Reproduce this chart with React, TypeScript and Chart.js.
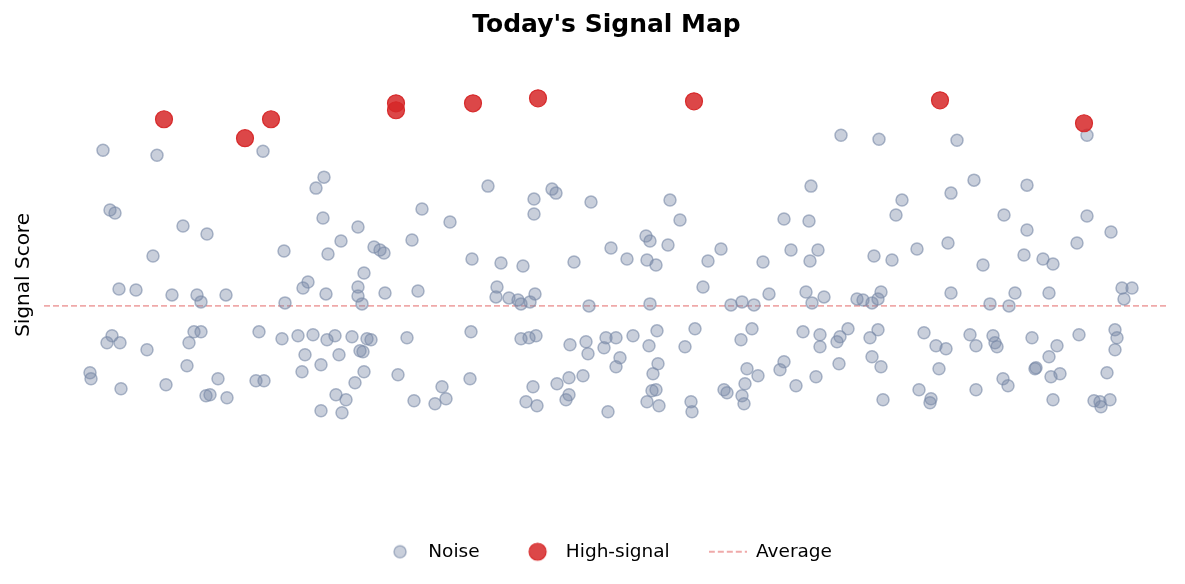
import React, { useEffect, useRef } from "react";
import { Chart, registerables } from "chart.js";

Chart.register(...registerables);

// ---- data ----
const X_MIN = 0;
const X_MAX = 1125;
const Y_MIN = 0;
const Y_MAX = 458;

const AVERAGE_SCORE = 198;

const highSignalPoints: [number, number][] = [
  [120, 385], [201, 366], [227, 385], [352, 401], [352, 394],
  [429, 401], [494, 406], [650, 403], [896, 404], [1040, 381],
];

const noisePointsA: [number, number][] = [
  [59, 354], [113, 349], [219, 353], [280, 327], [272, 316], [66, 294], [71, 291],
  [139, 278], [163, 270], [279, 286], [240, 253], [109, 248], [75, 215], [92, 214],
  [128, 209], [153, 209], [157, 202], [182, 209], [259, 216], [264, 222], [241, 201],
  [282, 210], [68, 168], [63, 161], [76, 161], [103, 154], [150, 172], [157, 172],
  [145, 161], [215, 172], [238, 165], [254, 168], [269, 169], [283, 164], [261, 149],
  [277, 139], [258, 132], [46, 131], [47, 125], [143, 138], [174, 125], [77, 115],
  [122, 119], [162, 108], [166, 109], [183, 106], [212, 123], [220, 123], [277, 93],
  [284, 250],
];

const noisePointsB: [number, number][] = [
  [297, 263], [314, 277], [330, 257], [336, 254], [340, 251], [368, 264], [378, 295],
  [406, 282], [444, 318], [490, 305], [490, 290], [508, 315], [512, 311], [547, 302],
  [567, 256], [428, 245], [457, 241], [479, 238], [530, 242], [320, 231], [314, 217],
  [314, 208], [318, 200], [341, 211], [374, 213], [453, 217], [452, 207], [465, 206],
  [474, 204], [477, 200], [486, 202], [491, 210], [545, 198], [291, 168], [308, 167],
  [323, 165], [327, 164], [363, 166], [427, 172], [477, 165], [485, 166], [492, 168],
  [526, 159], [542, 162], [544, 150], [560, 156], [562, 166], [572, 166], [576, 146],
  [572, 137], [316, 153], [319, 152], [295, 149], [320, 132], [311, 121], [354, 129],
  [292, 109], [302, 104], [298, 91], [370, 103], [391, 100], [398, 117], [402, 105],
  [426, 125], [489, 117], [482, 102], [493, 98], [513, 120], [525, 126], [539, 128],
  [522, 104], [525, 109], [564, 92],
];

const noisePointsC: [number, number][] = [
  [626, 304], [636, 284], [602, 268], [606, 263], [624, 259], [677, 255], [740, 285],
  [765, 283], [767, 318], [797, 369], [835, 365], [858, 304], [852, 289], [747, 254],
  [774, 254], [830, 248], [583, 245], [603, 244], [612, 239], [664, 243], [719, 242],
  [766, 243], [848, 244], [659, 217], [725, 210], [762, 212], [780, 207], [768, 201],
  [606, 200], [687, 199], [698, 202], [710, 199], [813, 205], [819, 204], [828, 201],
  [834, 205], [837, 212], [589, 168], [613, 173], [605, 158], [651, 175], [641, 157],
  [697, 164], [708, 175], [759, 172], [776, 169], [776, 157], [793, 162], [796, 167],
  [804, 175], [826, 166], [834, 174], [795, 140], [828, 147], [837, 137], [614, 140],
  [609, 130], [703, 135], [714, 128], [701, 120], [740, 142], [736, 134], [772, 127],
  [752, 118], [680, 114], [683, 111], [698, 108], [700, 100], [647, 102], [648, 92],
  [603, 102], [615, 98], [608, 113], [612, 114], [839, 104],
];

const noisePointsD: [number, number][] = [
  [913, 364], [1043, 369], [930, 324], [907, 311], [983, 319], [960, 289], [983, 274],
  [1043, 288], [1067, 272], [1033, 261], [904, 261], [873, 255], [980, 249], [999, 245],
  [1009, 240], [939, 239], [907, 211], [971, 211], [1005, 211], [1078, 216], [1088, 216],
  [1080, 205], [946, 200], [965, 198], [880, 171], [892, 158], [902, 155], [926, 169],
  [932, 158], [949, 168], [951, 161], [953, 157], [988, 166], [991, 135], [992, 136],
  [1005, 147], [1013, 158], [1035, 169], [1071, 174], [1073, 166], [1071, 154], [895, 135],
  [875, 114], [887, 105], [886, 101], [932, 114], [959, 125], [964, 118], [1007, 127],
  [1016, 130], [1063, 131], [1009, 104], [1050, 103], [1056, 102], [1057, 97], [1066, 104],
];

const noisePoints = [...noisePointsA, ...noisePointsB, ...noisePointsC, ...noisePointsD];

const LABELS = ["Noise", "High-signal", "Average"];

// ---- styles ----
const FONT = "'DejaVu Sans', Verdana, sans-serif";
const NOISE_FILL = "rgba(120,136,166,0.4)";
const NOISE_BORDER = "rgba(120,136,166,0.6)";
const SIGNAL_FILL = "rgba(214,39,40,0.85)";
const SIGNAL_BORDER = "rgba(214,39,40,0.95)";
const AVG_COLOR = "rgba(214,39,40,0.4)";

function circleIcon(r: number, fill: string, stroke: string, lw: number) {
  const size = Math.ceil(2 * r + lw + 2);
  const c = document.createElement("canvas");
  c.width = size;
  c.height = size;
  const ctx = c.getContext("2d")!;
  ctx.beginPath();
  ctx.arc(size / 2, size / 2, r, 0, Math.PI * 2);
  ctx.fillStyle = fill;
  ctx.fill();
  ctx.lineWidth = lw;
  ctx.strokeStyle = stroke;
  ctx.stroke();
  return c;
}

function dashIcon(w: number) {
  const c = document.createElement("canvas");
  c.width = w;
  c.height = 6;
  const ctx = c.getContext("2d")!;
  ctx.setLineDash([6, 3]);
  ctx.strokeStyle = AVG_COLOR;
  ctx.lineWidth = 1.8;
  ctx.beginPath();
  ctx.moveTo(0, 3);
  ctx.lineTo(w, 3);
  ctx.stroke();
  return c;
}

export default function App() {
  const ref = useRef<HTMLCanvasElement | null>(null);

  useEffect(() => {
    if (!ref.current) return;
    const icons = [
      circleIcon(6, NOISE_FILL, NOISE_BORDER, 1.5),
      circleIcon(8.5, SIGNAL_FILL, SIGNAL_BORDER, 1.2),
      dashIcon(38),
    ];
    const chart = new Chart(ref.current, {
      type: "scatter",
      data: {
        datasets: [
          {
            type: "line",
            label: LABELS[2],
            data: [
              { x: X_MIN, y: AVERAGE_SCORE },
              { x: X_MAX, y: AVERAGE_SCORE },
            ],
            borderColor: AVG_COLOR,
            borderWidth: 1.8,
            borderDash: [6, 3],
            pointRadius: 0,
            fill: false,
            order: 3,
          } as any,
          {
            label: LABELS[0],
            data: noisePoints.map(([x, y]) => ({ x, y })),
            backgroundColor: NOISE_FILL,
            borderColor: NOISE_BORDER,
            borderWidth: 1.5,
            pointRadius: 6,
            order: 2,
          },
          {
            label: LABELS[1],
            data: highSignalPoints.map(([x, y]) => ({ x, y })),
            backgroundColor: SIGNAL_FILL,
            borderColor: SIGNAL_BORDER,
            borderWidth: 1.2,
            pointRadius: 8.5,
            order: 1,
          },
        ],
      },
      options: {
        responsive: false,
        animation: false,
        events: [],
        layout: { padding: { top: 0, left: 12, right: 16, bottom: 13 } },
        scales: {
          x: { type: "linear", display: false, min: X_MIN, max: X_MAX },
          y: {
            type: "linear",
            min: Y_MIN,
            max: Y_MAX,
            ticks: { display: false },
            grid: { display: false, drawTicks: false },
            border: { display: false },
            title: {
              display: true,
              text: "Signal Score",
              color: "#000",
              font: { family: FONT, size: 20 },
              padding: { top: 0, bottom: 8 },
            },
          },
        },
        plugins: {
          tooltip: { enabled: false },
          title: {
            display: true,
            text: "Today's Signal Map",
            color: "#000",
            fullSize: false,
            font: { family: FONT, size: 25, weight: "bold" },
            padding: { top: 10.5, bottom: 5.9 },
          },
          legend: {
            display: true,
            position: "bottom",
            fullSize: false,
            labels: {
              usePointStyle: true,
              pointStyleWidth: 38,
              boxHeight: 18,
              padding: 39,
              color: "#000",
              font: { family: FONT, size: 18.5 },
              generateLabels: () =>
                LABELS.map((text, i) => ({
                  text,
                  pointStyle: icons[i] as any,
                  fillStyle: "transparent",
                  strokeStyle: "transparent",
                  lineWidth: 0,
                  hidden: false,
                  fontColor: "#000",
                  datasetIndex: i,
                })),
            },
          },
        },
      },
    });
    return () => chart.destroy();
  }, []);

  return (
    <div style={{ position: "absolute", left: 0, top: 0, width: 1185, height: 584 }}>
      <canvas ref={ref} width={1185} height={584} style={{ display: "block" }} />
    </div>
  );
}
